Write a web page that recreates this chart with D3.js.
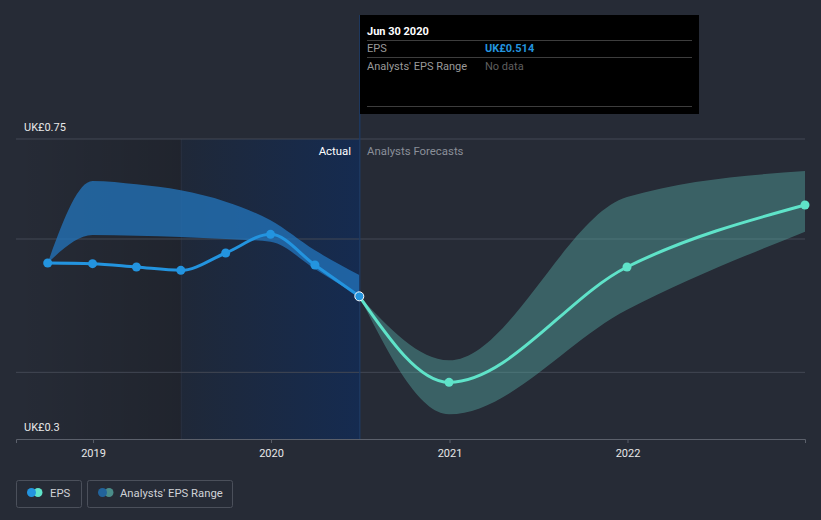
<!DOCTYPE html>
<html><head><meta charset="utf-8">
<script src="https://cdn.jsdelivr.net/npm/d3@7"></script>
<style>
html,body{margin:0;padding:0;background:#262b36;}
svg{display:block;font-family:Roboto,"Noto Sans",sans-serif;}
</style></head>
<body><svg id="c" width="821" height="520"></svg>
<script>
// ---- data ----
const pastDates = ["2018-09-30","2018-12-31","2019-03-31","2019-06-30","2019-09-30","2019-12-31","2020-03-31","2020-06-30"];
const pastEPS   = [0.564,0.563,0.558,0.553,0.579,0.607,0.561,0.514];
const pastLow   = [0.564,0.606,0.605,0.603,0.600,0.596,0.555,0.514];
const pastHigh  = [0.564,0.687,0.682,0.673,0.656,0.628,0.583,0.546];
const fcDates   = ["2020-06-30","2020-12-31","2021-12-31","2022-12-31"];
const fcEPS     = [0.514,0.385,0.558,0.651];
const fcLow     = [0.514,0.337,0.494,0.611];
const fcHigh    = [0.514,0.418,0.663,0.702];
const yTickLabels = [{v:0.75,t:"UK£0.75"},{v:0.3,t:"UK£0.3"}];
const gridValues = [0.75,0.6,0.4];
const xTickYears = ["2019","2020","2021","2022"];
const legendItems = ["EPS","Analysts' EPS Range"];

const P = d3.timeParse("%Y-%m-%d");
const svg = d3.select("#c");
const x = d3.scaleTime().domain([P("2018-07-27"),P("2022-12-31")]).range([16,805]);
const y = d3.scaleLinear().domain([0.3,0.75]).range([439,139]);

const defs = svg.append("defs");
const g1 = defs.append("linearGradient").attr("id","dark").attr("x1",0).attr("x2",1).attr("y1",0).attr("y2",0);
g1.append("stop").attr("offset",0).attr("stop-color","#000").attr("stop-opacity",0.0);
g1.append("stop").attr("offset",1).attr("stop-color","#000").attr("stop-opacity",0.16);
const g2 = defs.append("linearGradient").attr("id","blue").attr("x1",0).attr("x2",1).attr("y1",0).attr("y2",0);
g2.append("stop").attr("offset",0).attr("stop-color","#1f2838");
g2.append("stop").attr("offset",1).attr("stop-color","#152b50");

const xs = x(P("2019-06-30")), xe = x(P("2020-06-30"));
svg.append("rect").attr("x",16).attr("y",139).attr("width",xs-16).attr("height",300).attr("fill","url(#dark)");
svg.append("rect").attr("x",xs).attr("y",139).attr("width",xe-xs).attr("height",300).attr("fill","url(#blue)");
svg.append("line").attr("x1",xs+0.5).attr("x2",xs+0.5).attr("y1",139).attr("y2",439).attr("stroke","#ffffff").attr("stroke-opacity",0.04);

// grid
svg.selectAll(".grid").data(gridValues).enter().append("line")
  .attr("x1",16).attr("x2",805).attr("y1",d=>y(d)).attr("y2",d=>y(d))
  .attr("stroke","#434854").attr("stroke-width",1);

// y labels
svg.selectAll(".yl").data(yTickLabels).enter().append("text")
  .attr("x",24).attr("y",d=>y(d.v)-8).attr("fill","#e8e8e8").attr("font-size",11).text(d=>d.t);

// x axis
const xAxis = d3.axisBottom(x).tickValues(xTickYears.map(s=>P(s+"-01-01"))).tickFormat(d3.timeFormat("%Y")).tickSize(4).tickPadding(6);
const ax = svg.append("g").attr("transform","translate(0,439)").call(xAxis);
ax.select(".domain").attr("stroke","#5b606b");
ax.selectAll(".tick line").attr("stroke","#5b606b");
ax.selectAll(".tick text").attr("fill","#e8e8e8").attr("font-size",11).attr("font-family","Roboto,sans-serif");

const curve = d3.curveMonotoneX;
const past = pastDates.map((d,i)=>({d:P(d),v:pastEPS[i],lo:pastLow[i],hi:pastHigh[i]}));
const fc = fcDates.map((d,i)=>({d:P(d),v:fcEPS[i],lo:fcLow[i],hi:fcHigh[i]}));
const area = d3.area().x(d=>x(d.d)).y0(d=>y(d.lo)).y1(d=>y(d.hi)).curve(curve);
const line = d3.line().x(d=>x(d.d)).y(d=>y(d.v)).curve(curve);

svg.append("path").datum(past).attr("d",area).attr("fill","#2376bd").attr("fill-opacity",0.75);
svg.append("path").datum(fc).attr("d",area).attr("fill","#5ab3ad").attr("fill-opacity",0.4);

// labels
svg.append("text").attr("x",351).attr("y",155).attr("text-anchor","end").attr("fill","#ffffff").attr("font-size",11.4).text("Actual");
svg.append("text").attr("x",367).attr("y",155).attr("fill","#8a8f99").attr("font-size",11.4).text("Analysts Forecasts");

// vertical line
svg.append("line").attr("x1",xe+0.5).attr("x2",xe+0.5).attr("y1",15).attr("y2",439).attr("stroke","#1c3b68").attr("stroke-width",1.2);

svg.append("path").datum(fc).attr("d",line).attr("fill","none").attr("stroke","#5fe3c9").attr("stroke-width",3);
svg.append("path").datum(past).attr("d",line).attr("fill","none").attr("stroke","#2394df").attr("stroke-width",3);

svg.selectAll(".fp").data(fc.slice(1)).enter().append("circle")
  .attr("cx",d=>x(d.d)).attr("cy",d=>y(d.v)).attr("r",4.5).attr("fill","#5fe3c9");
svg.selectAll(".pp").data(past.slice(0,-1)).enter().append("circle")
  .attr("cx",d=>x(d.d)).attr("cy",d=>y(d.v)).attr("r",4.5).attr("fill","#2394df");
const last = past[past.length-1];
svg.append("circle").attr("cx",x(last.d)).attr("cy",y(last.v)).attr("r",4.5).attr("fill","#2394df").attr("stroke","#ffffff").attr("stroke-width",1);

// tooltip
const tt = svg.append("g").attr("transform","translate(360,15)");
tt.append("rect").attr("width",339).attr("height",99).attr("fill","#000");
tt.append("text").attr("x",7).attr("y",20).attr("fill","#fff").attr("font-size",11).attr("font-weight","bold").text("Jun 30 2020");
[25,42,91].forEach(yy=>tt.append("line").attr("x1",7).attr("x2",332).attr("y1",yy+0.5).attr("y2",yy+0.5).attr("stroke","#3d3d3d"));
tt.append("text").attr("x",7).attr("y",37).attr("fill","#9a9a9a").attr("font-size",11).text("EPS");
tt.append("text").attr("x",125).attr("y",37).attr("fill","#2394df").attr("font-size",11).attr("font-weight","bold").text("UK£" + pastEPS[pastEPS.length-1].toFixed(3));
tt.append("text").attr("x",7).attr("y",55).attr("fill","#9a9a9a").attr("font-size",11).text("Analysts' EPS Range");
tt.append("text").attr("x",125).attr("y",55).attr("fill","#5f5f5f").attr("font-size",11).text("No data");

// legend
const lg = [{x:16,w:66,c1:"#2394df",c2:"#5fe3c9"},{x:87,w:146,c1:"#22639b",c2:"#4a8c89"}];
lg.forEach((L,i)=>{
  const g = svg.append("g").attr("transform",`translate(${L.x},480)`);
  g.append("rect").attr("x",0.5).attr("y",0.5).attr("width",L.w-1).attr("height",27).attr("rx",2).attr("fill","none").attr("stroke","#4b505b");
  g.append("circle").attr("cx",22).attr("cy",12.5).attr("r",4.5).attr("fill",L.c2);
  g.append("circle").attr("cx",15.5).attr("cy",12.5).attr("r",4.5).attr("fill",L.c1);
  g.append("text").attr("x",i===0?34:33).attr("y",17).attr("fill","#d0d2d6").attr("font-size",11.3).text(legendItems[i]);
});
</script></body></html>
